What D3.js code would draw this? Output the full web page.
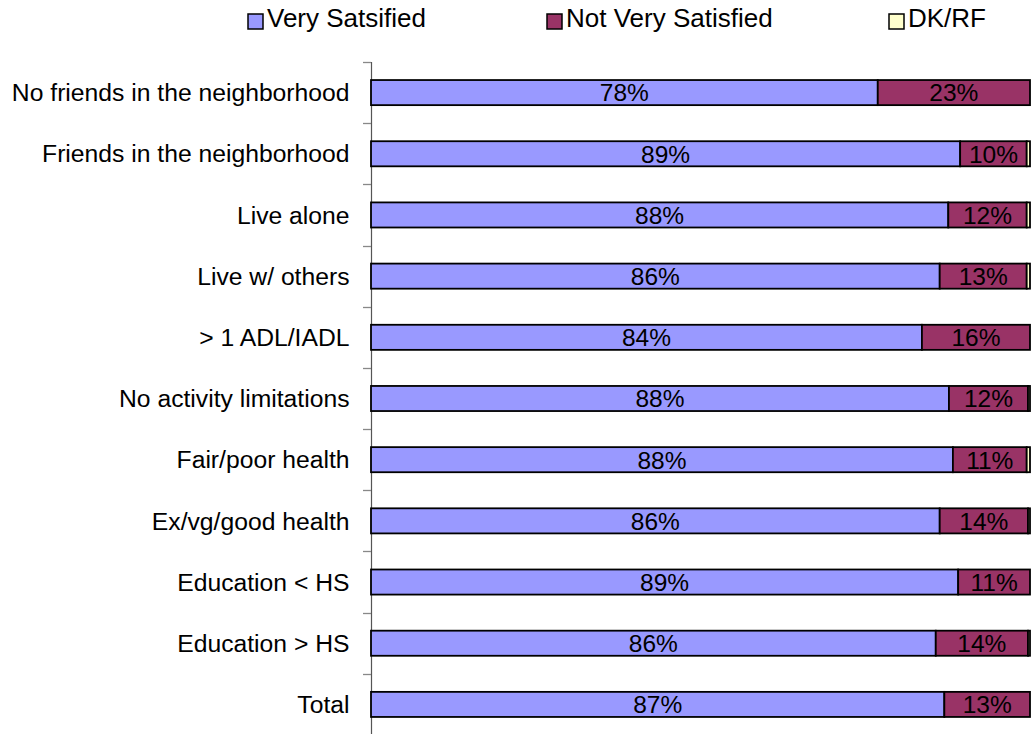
<!DOCTYPE html>
<html><head><meta charset="utf-8">
<script src="https://cdn.jsdelivr.net/npm/d3@7"></script>
<style>body{margin:0;background:#fff}svg{display:block}text{font-family:"Liberation Sans",Arial,sans-serif}</style>
</head><body><svg id="c" width="1031" height="734"></svg>
<script>
const categories = ["No friends in the neighborhood","Friends in the neighborhood","Live alone","Live w/ others","> 1 ADL/IADL","No activity limitations","Fair/poor health","Ex/vg/good health","Education < HS","Education > HS","Total"];
const verySatisfied =    [76.9, 89.4, 87.6, 86.3, 83.6, 87.7, 88.3, 86.3, 89.1, 85.7, 87.0];
const notVerySatisfied = [23.1, 10.1, 11.9, 13.2, 16.4, 12.0, 11.2, 13.4, 10.9, 14.0, 13.0];
const dkrf =             [0.0, 0.5, 0.5, 0.5, 0.0, 0.3, 0.5, 0.3, 0.0, 0.3, 0.0];
const vsLabels  = ["78%","89%","88%","86%","84%","88%","88%","86%","89%","86%","87%"];
const nvsLabels = ["23%","10%","12%","13%","16%","12%","11%","14%","11%","14%","13%"];
const seriesNames = ["Very Satsified","Not Very Satisfied","DK/RF"];
const colors = ["#9999FF","#993366","#FFFFCC"];

const svg = d3.select("#c");
const x = d3.scaleLinear().domain([0,100]).range([371,1030]);
const yb = d3.scaleBand().domain(categories).range([62,735]);
const y = d3.scaleBand().domain(categories).range([62,735]).paddingInner(0.59).paddingOuter(0.295);

const rows = categories.map((c,i)=>({cat:c, vals:[verySatisfied[i],notVerySatisfied[i],dkrf[i]], labels:[vsLabels[i],nvsLabels[i],""]}));

// axis line and ticks
svg.append("line").attr("x1",371.5).attr("x2",371.5).attr("y1",62).attr("y2",734).attr("stroke","#555").attr("stroke-width",1.2);
const tickPos = categories.map(c=>yb(c));
svg.selectAll(".tk").data(tickPos).enter().append("line")
  .attr("x1",363).attr("x2",371).attr("y1",d=>Math.round(d)+0.5).attr("y2",d=>Math.round(d)+0.5)
  .attr("stroke","#888").attr("stroke-width",1.3);

// category labels
svg.selectAll(".cl").data(categories).enter().append("text")
  .attr("x",349.5).attr("y",c=>yb(c)+yb.bandwidth()/2).attr("dy","0.35em")
  .attr("text-anchor","end").attr("font-size",24.7).attr("fill","#000").text(c=>c);

// bars
const g = svg.selectAll(".row").data(rows).enter().append("g");
g.each(function(r){
  let acc=0;
  const sel=d3.select(this);
  r.vals.forEach((v,k)=>{
    const x0=x(acc), x1=x(acc+v);
    if(v>0){
      sel.append("rect").attr("x",x0).attr("y",y(r.cat)).attr("width",x1-x0).attr("height",y.bandwidth())
        .attr("fill",colors[k]).attr("stroke","#000").attr("stroke-width",1.8);
    }
    if(r.labels[k]){
      sel.append("text").attr("x",(x0+x1)/2).attr("y",y(r.cat)+y.bandwidth()/2).attr("dy","0.36em")
        .attr("text-anchor","middle").attr("font-size",24.5).attr("fill","#000").text(r.labels[k]);
    }
    acc+=v;
  });
});

// legend
const legX=[248,547,889];
const lg = svg.selectAll(".lg").data(seriesNames).enter().append("g").attr("transform",(d,i)=>`translate(${legX[i]},0)`);
lg.append("rect").attr("x",0).attr("y",14).attr("width",15).attr("height",15).attr("fill",(d,i)=>colors[i]).attr("stroke","#000").attr("stroke-width",1.5);
lg.append("text").attr("x",19).attr("y",27).attr("font-size",26).attr("fill","#000").text(d=>d);
</script></body></html>
